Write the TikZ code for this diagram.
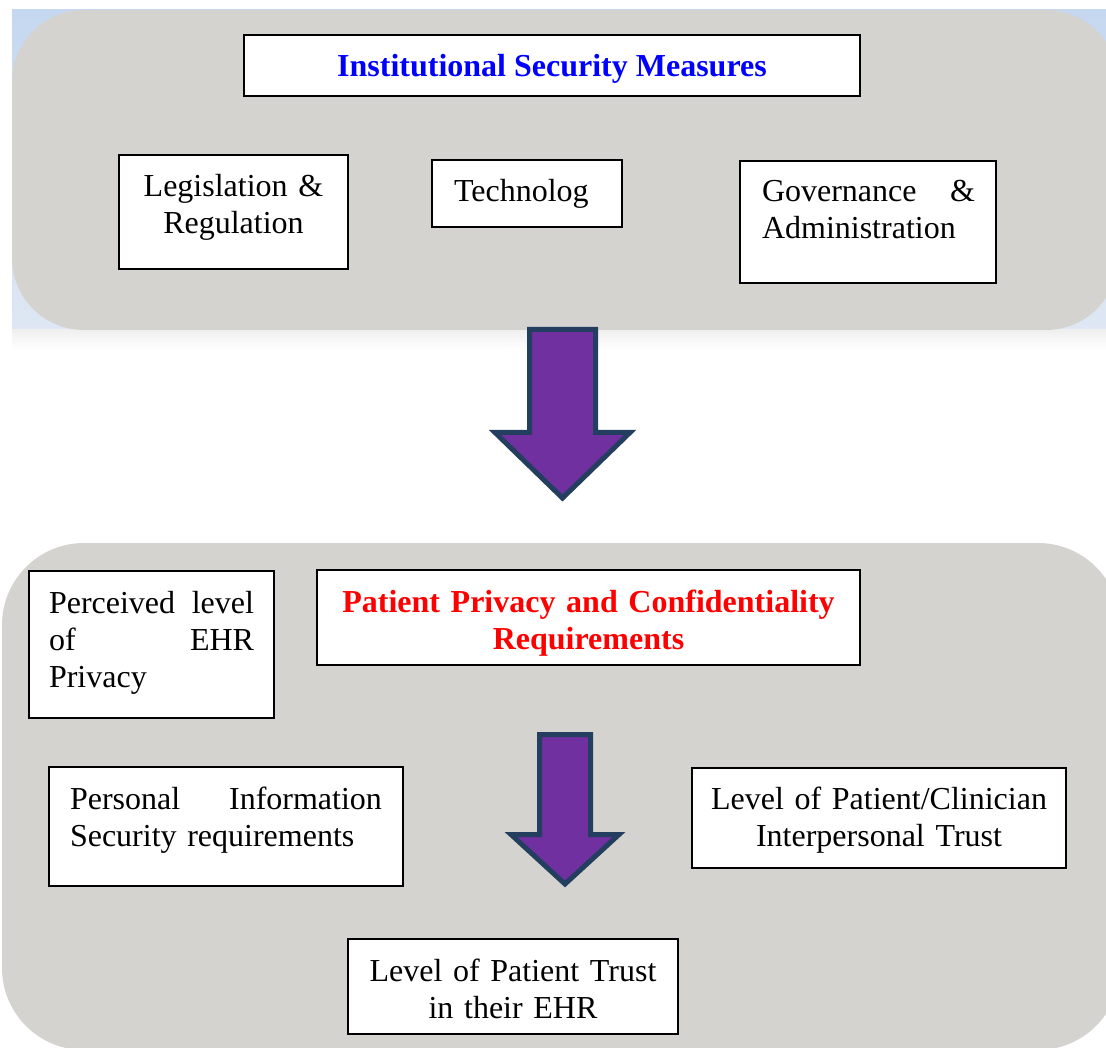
\documentclass[tikz,border=0pt]{standalone}
\usepackage{fontspec}
\setmainfont{Liberation Serif}
\usetikzlibrary{fit}

\definecolor{panelgray}{RGB}{212,211,207}
\definecolor{backblueA}{RGB}{197,216,240}
\definecolor{backblueB}{RGB}{222,231,243}
\definecolor{arrowfill}{RGB}{112,48,160}
\definecolor{arrowedge}{RGB}{36,62,96}
\definecolor{titleblue}{RGB}{0,0,255}
\definecolor{titlered}{RGB}{255,0,0}

\tikzset{
  panel/.style={fill=panelgray, draw=none},
  box/.style={draw=black, line width=1.8pt, fill=white, inner sep=0pt},
  txt/.style={inner sep=0pt, outer sep=0pt, font=\fontsize{32}{37}\selectfont},
  blockarrow/.style={fill=arrowfill, draw=arrowedge, line width=5pt, line join=miter},
}

\begin{document}
\begin{tikzpicture}[x=1pt, y=-1pt]
  \useasboundingbox (0,0) rectangle (1106,1048);
  \fill[white] (0,0) rectangle (1106,1048);
  \clip (0,0) rectangle (1106,1048);

  % upper panel: tinted backdrop, soft shadow strip and rounded gray card
  \shade[top color=backblueA, bottom color=backblueB] (12,10) rectangle (1106,330);
  \shade[top color=black!6, bottom color=white] (12,330) rectangle (1106,350);
  \node[panel, rounded corners=72pt, fit={(12,10) (1118,330)}, inner sep=0pt] (upper) {};

  % lower panel
  \node[panel, rounded corners=82pt, fit={(2,543) (1120,1050)}, inner sep=0pt] (lower) {};

  % upper panel boxes
  \node[box, fit={(244,35) (860,96)}] (title) {};
  \node[txt, anchor=base, font=\fontsize{32}{37}\selectfont\bfseries, text=titleblue] (titletext) at (552,77) {Institutional Security Measures};

  \node[box, fit={(119,155) (348,269)}] (legis) {};
  \node[txt, anchor=base, text width=220pt, align=center] (legistext) at (233.5,197) {Legislation \&\\Regulation};

  \node[box, fit={(432,160) (622,227)}] (tech) {};
  \node[txt, anchor=base west] (techtext) at (454,202) {Technolog};

  \node[box, fit={(740,161) (996,283)}] (gov) {};
  \node[txt, anchor=base west, text width=213pt, align=left] (govtext) at (762,202) {Governance\hfill\&\\Administration};

  % arrow from the institutional measures down to the patient requirements
  \draw[blockarrow] (529.5,329.5) -- (595.5,329.5) -- (595.5,432.5) -- (630,432.5)
    -- (562.5,498) -- (495,432.5) -- (529.5,432.5) -- cycle;

  % lower panel boxes
  \node[box, fit={(29,571) (274,718)}] (perc) {};
  \node[txt, anchor=base west, text width=205pt, align=left] (perctext) at (49,613) {Perceived\hfill level\\of\hfill EHR\\Privacy};

  \node[box, fit={(317,570) (860,665)}] (req) {};
  \node[txt, anchor=base, text width=530pt, align=center, font=\fontsize{32}{37}\selectfont\bfseries, text=titlered] (reqtext) at (588.5,612) {Patient Privacy and Confidentiality\\Requirements};

  \node[box, fit={(49,767) (403,886)}] (pers) {};
  \node[txt, anchor=base west, text width=312pt, align=left] (perstext) at (70,809) {Personal\hfill Information\\Security requirements};

  \node[box, fit={(692,768) (1066,868)}] (clin) {};
  \node[txt, anchor=base, text width=360pt, align=center] (clintext) at (879,809) {Level of Patient/Clinician\\Interpersonal Trust};

  \node[box, fit={(348,939) (678,1034)}] (trust) {};
  \node[txt, anchor=base, text width=320pt, align=center] (trusttext) at (513,981) {Level of Patient Trust\\in their EHR};

  % arrow towards the overall trust level
  \draw[blockarrow] (539.5,734.5) -- (590.5,734.5) -- (590.5,834.5) -- (619,834.5)
    -- (565,884) -- (511,834.5) -- (539.5,834.5) -- cycle;
\end{tikzpicture}
\end{document}
